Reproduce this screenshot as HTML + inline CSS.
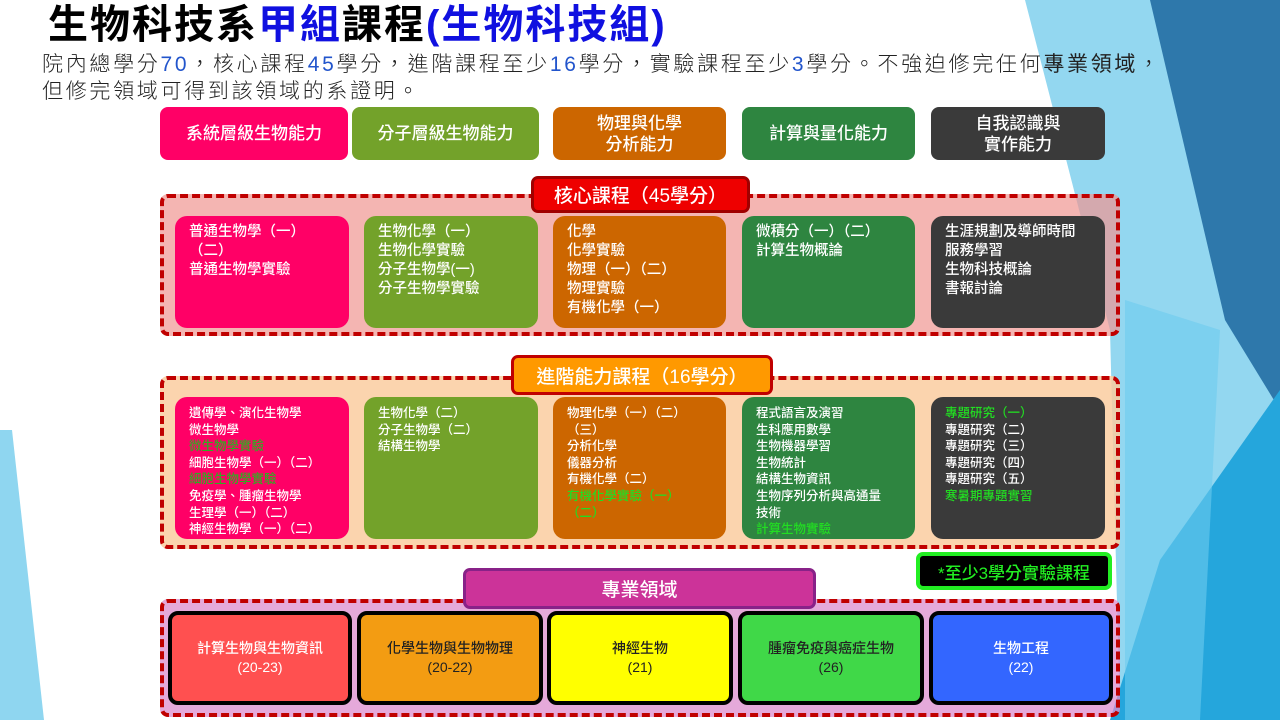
<!DOCTYPE html>
<html><head><meta charset="utf-8"><style>
*{margin:0;padding:0;box-sizing:border-box}
body{width:1280px;height:720px;position:relative;overflow:hidden;background:#fff;font-family:"Liberation Sans","Noto Sans CJK TC",sans-serif}
.a{position:absolute}
.hd{position:absolute;top:107px;height:53px;border-radius:8px;color:#fff;font-size:17px;font-weight:500;display:flex;align-items:center;justify-content:center;text-align:center;line-height:21px}
.cont{position:absolute;left:160px;width:960px;border:4px dashed #c00000;border-radius:8px}
.bx{position:absolute;border-radius:12px;color:#fff;font-weight:500;padding:7px 0 0 14px}
.core{top:216px;height:112px;font-size:14.5px;line-height:19px}
.adv{top:397px;height:142px;font-size:12.5px;line-height:16.6px;padding-top:8px}
.g{color:#22dd22}
.lbl{position:absolute;color:#fff;font-weight:500;display:flex;align-items:center;justify-content:center}
.sp{position:absolute;top:611px;height:94px;border:4px solid #000;border-radius:10px;font-size:14px;line-height:19px;font-weight:500;display:flex;align-items:center;justify-content:center;text-align:center}
</style></head><body>
<svg class="a" style="left:0;top:0" width="1280" height="720">
<polygon points="1025,0 1280,0 1280,720 1120,720 1110,330" fill="#93d7f0"/>
<polygon points="1150,0 1280,0 1280,410 1225,320" fill="#2e78ab"/>
<polygon points="1110,720 1280,720 1280,390 1160,560" fill="#25a6dc"/>
<polygon points="1125,300 1220,330 1200,720 1125,720" fill="#6ccbee" opacity="0.6"/>
<polygon points="0,430 12,430 44,720 0,720" fill="#8fd6f0"/>
</svg>
<div class="a" style="left:48px;top:2px;font-size:40px;font-weight:bold;line-height:46px;white-space:nowrap;letter-spacing:2px">生物科技系<span style="color:#1010e0">甲組</span>課程<span style="color:#1010e0">(生物科技組)</span></div>
<div class="a" style="left:42px;top:51px;font-size:21px;line-height:27px;white-space:nowrap;color:#222;font-weight:300;letter-spacing:2.7px">院內總學分<span style="color:#2255cc">70</span>，核心課程<span style="color:#2255cc">45</span>學分，進階課程至少<span style="color:#2255cc">16</span>學分，實驗課程至少<span style="color:#2255cc">3</span>學分。不強迫修完任何<b>專業領域</b>，<br>但修完領域可得到該領域的系證明。</div>

<div class="hd" style="left:160px;width:188px;background:#ff0066">系統層級生物能力</div>
<div class="hd" style="left:352px;width:187px;background:#73a22a">分子層級生物能力</div>
<div class="hd" style="left:553px;width:173px;background:#cc6600">物理與化學<br>分析能力</div>
<div class="hd" style="left:742px;width:173px;background:#2e8540">計算與量化能力</div>
<div class="hd" style="left:931px;width:174px;background:#3a3a3a">自我認識與<br>實作能力</div>

<div class="cont" style="top:194px;height:142px;background:rgba(240,150,145,0.7)"></div>
<div class="lbl" style="left:531px;top:176px;width:219px;height:37px;background:#ee0000;border:3px solid #a00000;border-radius:7px;font-size:19px">核心課程（45學分）</div>
<div class="bx core" style="left:175px;width:174px;background:#ff0066">普通生物學（一）<br>（二）<br>普通生物學實驗</div>
<div class="bx core" style="left:364px;width:174px;background:#73a22a">生物化學（一）<br>生物化學實驗<br>分子生物學(一)<br>分子生物學實驗</div>
<div class="bx core" style="left:553px;width:173px;background:#cc6600">化學<br>化學實驗<br>物理（一）（二）<br>物理實驗<br>有機化學（一）</div>
<div class="bx core" style="left:742px;width:173px;background:#2e8540">微積分（一）（二）<br>計算生物概論</div>
<div class="bx core" style="left:931px;width:174px;background:#3a3a3a">生涯規劃及導師時間<br>服務學習<br>生物科技概論<br>書報討論</div>

<div class="cont" style="top:376px;height:173px;background:rgba(250,205,160,0.85)"></div>
<div class="lbl" style="left:511px;top:355px;width:262px;height:40px;background:#ff9900;border:3px solid #c00000;border-radius:7px;font-size:19px">進階能力課程（16學分）</div>
<div class="bx adv" style="left:175px;width:174px;background:#ff0066">遺傳學、演化生物學<br>微生物學<br><span style="color:#33aa22">微生物學實驗</span><br>細胞生物學（一）（二）<br><span style="color:#33aa22">細胞生物學實驗</span><br>免疫學、腫瘤生物學<br>生理學（一）（二）<br>神經生物學（一）（二）</div>
<div class="bx adv" style="left:364px;width:174px;background:#73a22a">生物化學（二）<br>分子生物學（二）<br>結構生物學</div>
<div class="bx adv" style="left:553px;width:173px;background:#cc6600">物理化學（一）（二）<br>（三）<br>分析化學<br>儀器分析<br>有機化學（二）<br><span class="g">有機化學實驗（一）<br>（二）</span></div>
<div class="bx adv" style="left:742px;width:173px;background:#2e8540">程式語言及演習<br>生科應用數學<br>生物機器學習<br>生物統計<br>結構生物資訊<br>生物序列分析與高通量<br>技術<br><span class="g">計算生物實驗</span></div>
<div class="bx adv" style="left:931px;width:174px;background:#3a3a3a"><span class="g">專題研究（一）</span><br>專題研究（二）<br>專題研究（三）<br>專題研究（四）<br>專題研究（五）<br><span class="g">寒暑期專題實習</span></div>

<div class="lbl" style="left:916px;top:552px;width:196px;height:38px;background:#000;border:4px solid #22ee22;border-radius:7px;font-size:17px;color:#22ee22">*至少3學分實驗課程</div>

<div class="cont" style="top:599px;height:118px;background:rgba(220,140,205,0.75)"></div>
<div class="lbl" style="left:463px;top:568px;width:353px;height:41px;background:#cc3399;border:3px solid #882288;border-radius:7px;font-size:19px">專業領域</div>
<div class="sp" style="left:168px;width:184px;background:#ff5050;color:#fff">計算生物與生物資訊<br>(20-23)</div>
<div class="sp" style="left:357px;width:186px;background:#f39c12;color:#222">化學生物與生物物理<br>(20-22)</div>
<div class="sp" style="left:547px;width:186px;background:#ffff00;color:#222">神經生物<br>(21)</div>
<div class="sp" style="left:738px;width:186px;background:#40d848;color:#222">腫瘤免疫與癌症生物<br>(26)</div>
<div class="sp" style="left:929px;width:184px;background:#3366ff;color:#fff">生物工程<br>(22)</div>
</body></html>
